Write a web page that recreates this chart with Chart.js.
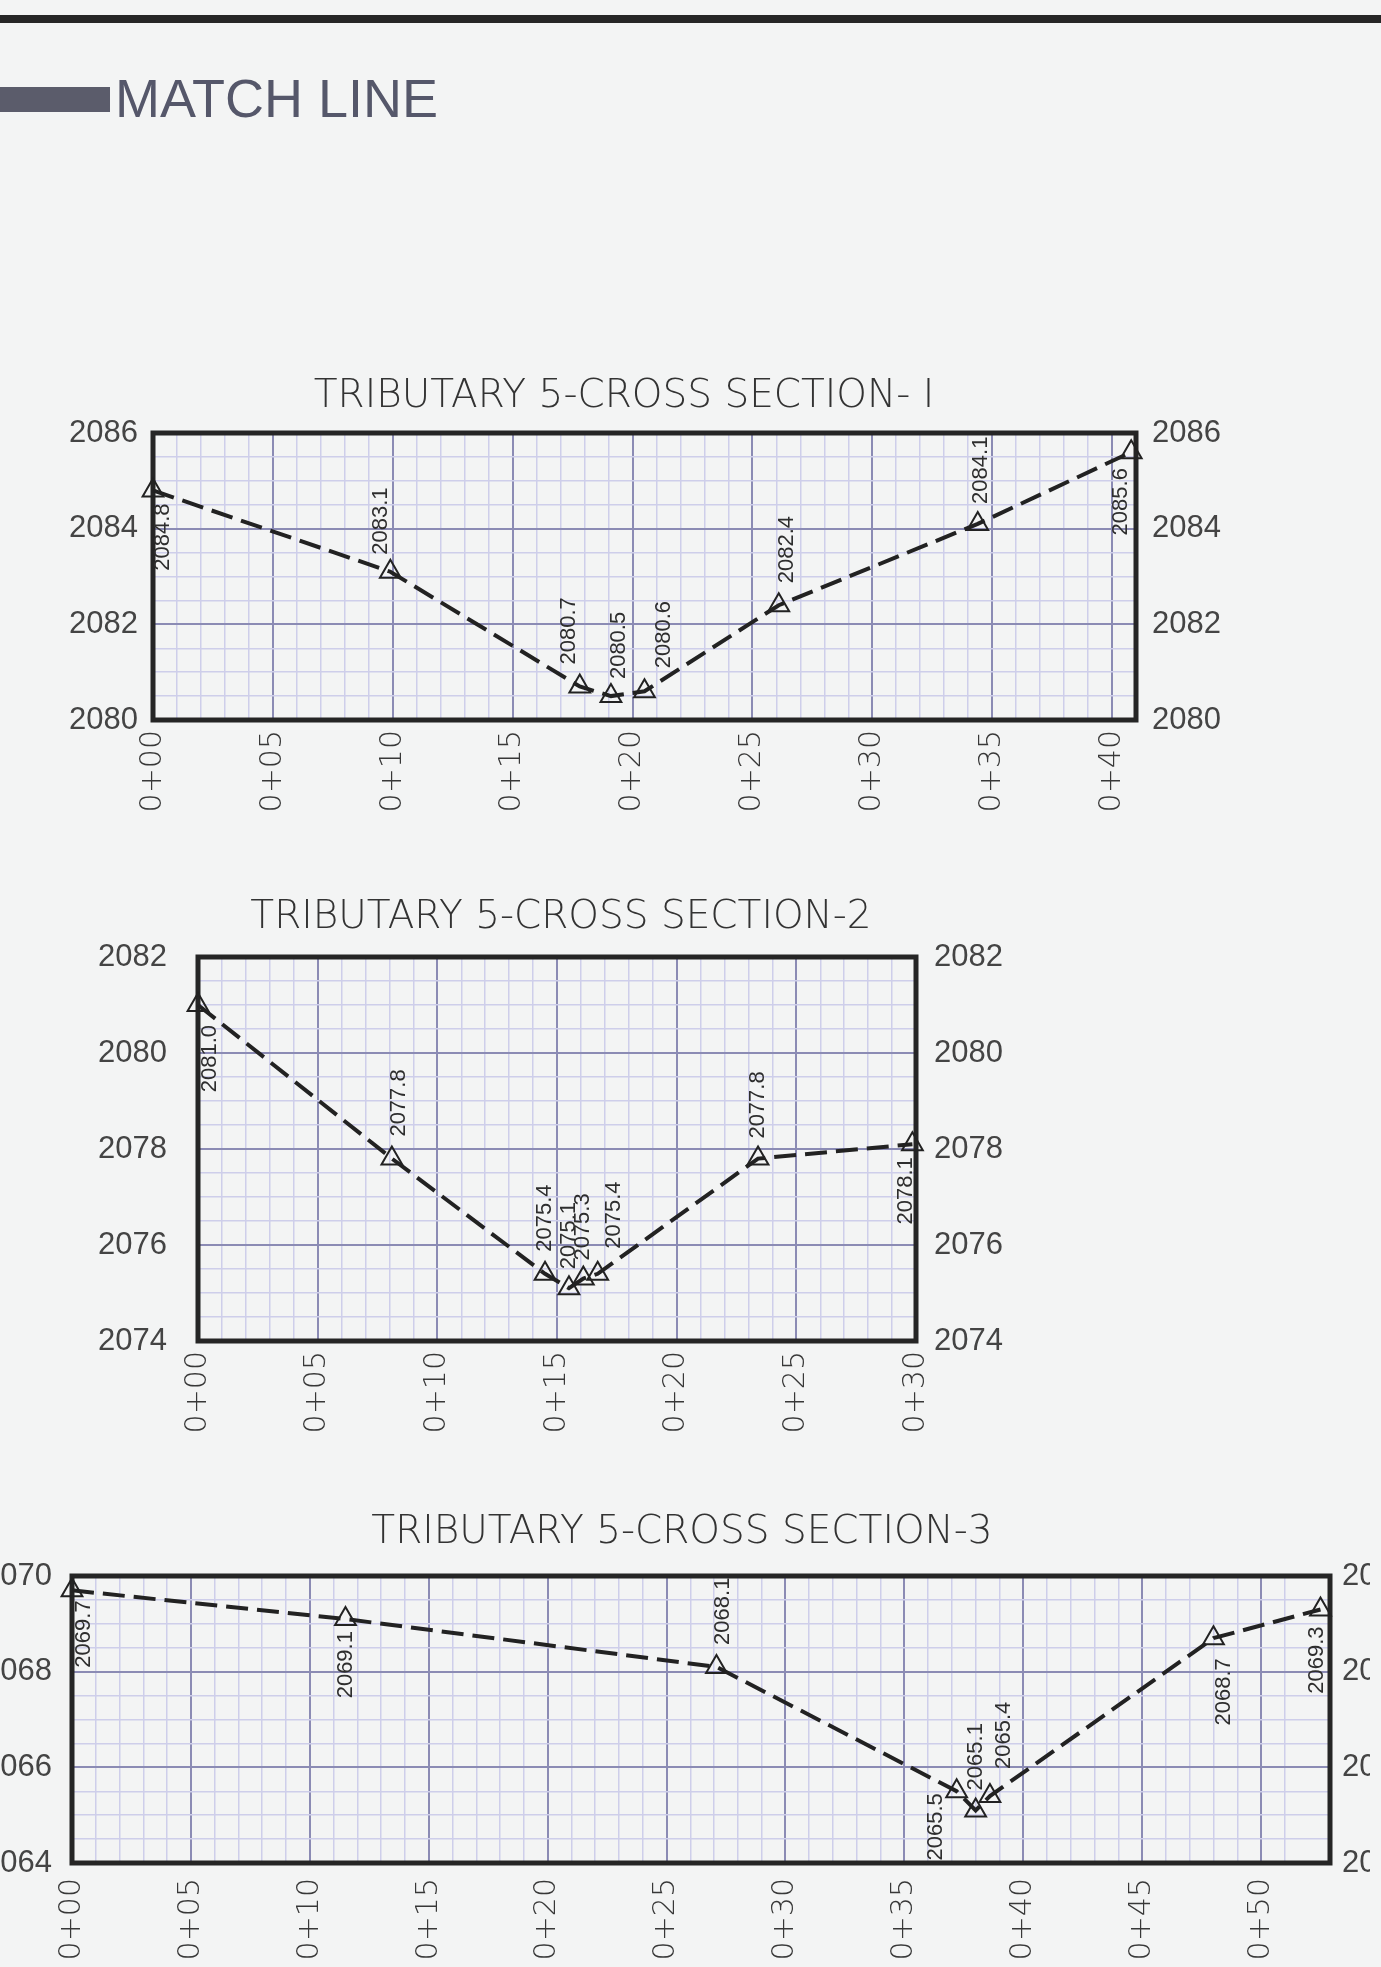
<!DOCTYPE html>
<html>
<head>
<meta charset="utf-8">
<title>Tributary 5 cross sections</title>
<script src="https://cdn.jsdelivr.net/npm/chart.js"></script>
<style>
  html, body { margin: 0; padding: 0; }
  body { width: 1381px; height: 1967px; background: #f3f4f4; position: relative; overflow: hidden; font-family: "Liberation Sans", Arial, sans-serif; }
  .topline { position: absolute; left: 0; top: 15px; width: 1381px; height: 8px; background: #262626; }
  .bar { position: absolute; left: 0; top: 87px; width: 110px; height: 25px; background: #5b5c6b; }
  .header { position: absolute; left: 115px; top: 71px; font-size: 54px; line-height: 54px; color: #55576a; white-space: nowrap; }
  canvas { position: absolute; }
</style>
</head>
<body>
<div class="topline"></div>
<div class="bar"></div>
<div class="header">MATCH LINE</div>
<canvas id="section1"></canvas>
<canvas id="section2"></canvas>
<canvas id="section3"></canvas>
<script>
// station (ft along section) and ground elevation
const stations1 = [0, 9.9, 17.8, 19.1, 20.5, 26.1, 34.4, 40.8];
const elev1 = [2084.8, 2083.1, 2080.7, 2080.5, 2080.6, 2082.4, 2084.1, 2085.6];
const stationTicks1 = ['0+00', '0+05', '0+10', '0+15', '0+20', '0+25', '0+30', '0+35', '0+40'];
const elevTicks1 = [2080, 2082, 2084, 2086];

const stations2 = [0, 8.1, 14.5, 15.5, 16.1, 16.7, 23.4, 29.85];
const elev2 = [2081.0, 2077.8, 2075.4, 2075.1, 2075.3, 2075.4, 2077.8, 2078.1];
const stationTicks2 = ['0+00', '0+05', '0+10', '0+15', '0+20', '0+25', '0+30'];
const elevTicks2 = [2074, 2076, 2078, 2080, 2082];

const stations3 = [0, 11.5, 27.1, 37.2, 38.0, 38.6, 48.0, 52.5];
const elev3 = [2069.7, 2069.1, 2068.1, 2065.5, 2065.1, 2065.4, 2068.7, 2069.3];
const stationTicks3 = ['0+00', '0+05', '0+10', '0+15', '0+20', '0+25', '0+30', '0+35', '0+40', '0+45', '0+50'];
const elevTicks3 = [2064, 2066, 2068, 2070];

// where each elevation note sits relative to its point
const labels1 = { side: ['below', 'above', 'above', 'above', 'above', 'above', 'above', 'below'],
                  dx: [10, -9, -11, 8, 19, 8, 3, -10], gap: [13, 17, 22, 17, 23, 22, 20, 16] };
const labels2 = { side: ['below', 'above', 'above', 'above', 'above', 'above', 'above', 'below'],
                  dx: [12, 7, 0, 0, 0, 16, 0, -6], gap: [20, 22, 22, 19, 18, 25, 20, 13] };
const labels3 = { side: ['below', 'below', 'above', 'below', 'above', 'above', 'below', 'below'],
                  dx: [12, 0, 6, -21, 0, 14, 10, -4], gap: [10, 12, 22, 2, 20, 27, 20, 17] };

const majorGrid = '#8b8bb4';
const minorGrid = '#ceceea';

const frame = {
    id: 'frame',
    beforeDatasetsDraw(chart) {
        const a = chart.chartArea;
        const ctx = chart.ctx;
        ctx.save();
        ctx.lineWidth = 5;
        ctx.strokeStyle = '#252525';
        ctx.strokeRect(a.left, a.top, a.right - a.left, a.bottom - a.top);
        ctx.restore();
    }
};

const pointLabels = {
    id: 'pointLabels',
    afterDatasetsDraw(chart, args, opts) {
        const ctx = chart.ctx;
        const meta = chart.getDatasetMeta(0);
        const values = chart.data.datasets[0].data;
        ctx.save();
        ctx.font = '22px "Liberation Sans Narrow", "Liberation Sans", sans-serif';
        ctx.fillStyle = '#2e2e2e';
        ctx.textBaseline = 'middle';
        meta.data.forEach((pt, i) => {
            const above = opts.side[i] == 'above';
            ctx.save();
            ctx.translate(pt.x + opts.dx[i], above ? pt.y - opts.gap[i] : pt.y + opts.gap[i]);
            ctx.rotate(-Math.PI / 2);
            ctx.textAlign = above ? 'left' : 'right';
            ctx.fillText(values[i].y.toFixed(1), 0, 0);
            ctx.restore();
        });
        ctx.restore();
    }
};

function drawSection(id, g, title, stations, elev, xMax, stationTicks, elevTicks, labelOpts){
    const lh = 39 * 1.2;
    const shift = 5; // light face sits high in its box
    const top = g.titleY - 40;
    const canvas = document.getElementById(id);
    canvas.width = g.width;
    canvas.height = g.bottom - top;
    canvas.style.left = g.left + 'px';
    canvas.style.top = top + 'px';

    const points = stations.map((s, i) => ({x: s, y: elev[i]}));
    const yMin = elevTicks[0];
    const yMax = elevTicks[elevTicks.length - 1];
    const yLabel = v => elevTicks.includes(v) ? String(v) : '';
    const yFont = {family: '"Liberation Sans", Arial, sans-serif', size: 31};

    return new Chart(canvas, {
        type: 'line',
        data: {
            datasets: [{
                data: points,
                borderColor: '#222',
                borderWidth: 4,
                borderDash: [22, 9],
                tension: 0,
                clip: false,
                pointStyle: 'triangle',
                pointRadius: 12,
                pointHoverRadius: 12,
                pointBorderWidth: 2,
                pointBorderColor: '#222',
                pointBackgroundColor: 'rgba(0,0,0,0)'
            }]
        },
        options: {
            responsive: false,
            animation: false,
            events: [],
            layout: {padding: 0, autoPadding: false},
            plugins: {
                legend: {display: false},
                tooltip: {enabled: false},
                title: {
                    display: true,
                    text: title,
                    color: '#333',
                    font: {family: '"DejaVu Sans"', size: 39, weight: 200},
                    padding: {top: 40 - lh / 2 + shift, bottom: g.plotTop - g.titleY - lh / 2 - shift}
                },
                pointLabels: labelOpts
            },
            scales: {
                x: {
                    type: 'linear',
                    min: 0,
                    max: xMax,
                    afterFit: s => { s.height = g.bottom - g.plotBottom; },
                    border: {display: false},
                    grid: {
                        drawTicks: false,
                        color: c => c.tick && c.tick.value % 5 === 0 ? majorGrid : minorGrid,
                        lineWidth: c => c.tick && c.tick.value % 5 === 0 ? 2 : 1.5
                    },
                    ticks: {
                        stepSize: 1,
                        autoSkip: false,
                        minRotation: 90,
                        maxRotation: 90,
                        padding: g.xPad,
                        color: '#383838',
                        font: {family: '"DejaVu Sans"', size: 30, weight: 200},
                        callback: v => v % 5 === 0 ? stationTicks[v / 5] : ''
                    }
                },
                y: {
                    position: 'left',
                    min: yMin,
                    max: yMax,
                    afterFit: s => { s.width = g.plotLeft - g.left; },
                    border: {display: false},
                    grid: {
                        drawTicks: false,
                        color: c => c.tick && c.tick.value % 2 === 0 ? majorGrid : minorGrid,
                        lineWidth: c => c.tick && c.tick.value % 2 === 0 ? 2 : 1.5
                    },
                    ticks: {stepSize: 0.5, autoSkip: false, padding: g.padLeft, color: '#444', font: yFont, callback: yLabel}
                },
                y2: {
                    position: 'right',
                    min: yMin,
                    max: yMax,
                    afterFit: s => { s.width = g.left + g.width - g.plotRight; },
                    border: {display: false},
                    grid: {display: false, drawTicks: false},
                    ticks: {stepSize: 0.5, autoSkip: false, padding: g.padRight, color: '#444', font: yFont, callback: yLabel}
                }
            }
        },
        plugins: [frame, pointLabels]
    });
}

drawSection('section1',
    {left: 0, width: 1248, titleY: 392, plotLeft: 153, plotRight: 1136, plotTop: 433, plotBottom: 720, bottom: 840, xPad: 10, padLeft: 15, padRight: 16},
    'TRIBUTARY 5-CROSS SECTION- I', stations1, elev1, 41, stationTicks1, elevTicks1, labels1);

drawSection('section2',
    {left: 0, width: 1122, titleY: 913, plotLeft: 198, plotRight: 916, plotTop: 957, plotBottom: 1341, bottom: 1460, xPad: 10, padLeft: 31, padRight: 18},
    'TRIBUTARY 5-CROSS SECTION-2', stations2, elev2, 30, stationTicks2, elevTicks2, labels2);

drawSection('section3',
    {left: -17, width: 1398, titleY: 1528, plotLeft: 72, plotRight: 1341, plotTop: 1576, plotBottom: 1863, bottom: 1967, xPad: 15, padLeft: 20, padRight: 12},
    'TRIBUTARY 5-CROSS SECTION-3', stations3, elev3, 52.9, stationTicks3, elevTicks3, labels3);
</script>
</body>
</html>
